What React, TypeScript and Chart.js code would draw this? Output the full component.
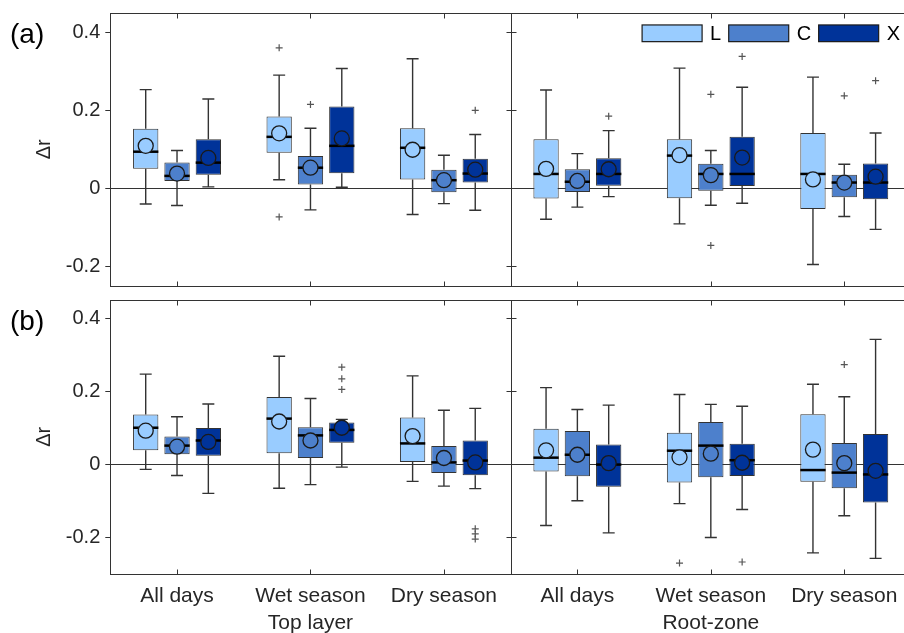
import React, { useEffect, useRef } from 'react';
import { Chart, registerables } from 'chart.js';

Chart.register(...registerables);

const FONT = '"Liberation Sans", Arial, sans-serif';
const TEXT = '#262626';
const LINE = '#333333';

const categories = ['All days', 'Wet season', 'Dry season', 'All days', 'Wet season', 'Dry season'];
const groupLabels = ['Top layer', 'Root-zone'];
const seriesNames = ['L', 'C', 'X'];
const seriesColors = ['#99ccff', '#4d80cc', '#003399'];
const yTicks = [-0.2, 0, 0.2, 0.4];
const rangeA = [-0.25, 0.45];
const rangeB = [-0.3, 0.45];

// Each box: [lower whisker, q1, median, q3, upper whisker]
// Panel (a)
const aBoxL = [
  [-0.04, 0.05, 0.094, 0.153, 0.253],
  [0.022, 0.091, 0.132, 0.184, 0.29],
  [-0.067, 0.023, 0.104, 0.154, 0.332],
  [-0.079, -0.026, 0.037, 0.126, 0.252],
  [-0.091, -0.025, 0.084, 0.126, 0.308],
  [-0.195, -0.053, 0.037, 0.142, 0.285],
];
const aMeanL = [0.109, 0.141, 0.099, 0.05, 0.085, 0.023];
const aOutL = [[], [0.36, -0.073], [], [], [], []];

const aBoxC = [
  [-0.044, 0.019, 0.032, 0.066, 0.097],
  [-0.055, 0.01, 0.053, 0.083, 0.154],
  [-0.039, -0.01, 0.021, 0.048, 0.085],
  [-0.048, -0.009, 0.017, 0.049, 0.089],
  [-0.043, -0.006, 0.037, 0.063, 0.097],
  [-0.072, -0.023, 0.015, 0.035, 0.062],
];
const aMeanC = [0.038, 0.053, 0.021, 0.019, 0.034, 0.015];
const aOutC = [[], [0.215], [], [], [0.241, -0.146], [0.237]];

const aBoxX = [
  [0.004, 0.035, 0.066, 0.126, 0.229],
  [0.003, 0.039, 0.109, 0.21, 0.307],
  [-0.056, 0.015, 0.038, 0.076, 0.138],
  [-0.021, 0.007, 0.037, 0.077, 0.148],
  [-0.038, 0.006, 0.037, 0.132, 0.259],
  [-0.105, -0.028, 0.015, 0.064, 0.142],
];
const aMeanX = [0.078, 0.128, 0.048, 0.049, 0.079, 0.03];
const aOutX = [[], [], [0.2], [0.185], [0.338], [0.276]];

// Panel (b)
const bBoxL = [
  [-0.014, 0.038, 0.1, 0.136, 0.247],
  [-0.066, 0.03, 0.125, 0.184, 0.296],
  [-0.047, 0.006, 0.057, 0.128, 0.242],
  [-0.168, -0.02, 0.018, 0.097, 0.21],
  [-0.108, -0.05, 0.037, 0.086, 0.191],
  [-0.243, -0.048, -0.016, 0.137, 0.219],
];
const bMeanL = [0.092, 0.117, 0.077, 0.038, 0.019, 0.04];
const bOutL = [[], [], [], [], [-0.271], []];

const bBoxC = [
  [-0.031, 0.027, 0.051, 0.076, 0.13],
  [-0.056, 0.017, 0.079, 0.101, 0.18],
  [-0.06, -0.024, 0.005, 0.05, 0.148],
  [-0.1, -0.033, 0.026, 0.091, 0.15],
  [-0.201, -0.036, 0.051, 0.116, 0.164],
  [-0.141, -0.066, -0.023, 0.058, 0.185],
];
const bMeanC = [0.048, 0.065, 0.017, 0.026, 0.029, 0.003];
const bOutC = [[], [], [], [], [], [0.273]];

const bBoxX = [
  [-0.08, 0.023, 0.065, 0.099, 0.165],
  [-0.008, 0.059, 0.094, 0.114, 0.123],
  [-0.067, -0.03, 0.01, 0.065, 0.153],
  [-0.188, -0.062, -0.001, 0.054, 0.162],
  [-0.124, -0.032, 0.011, 0.056, 0.159],
  [-0.258, -0.105, -0.028, 0.083, 0.342],
];
const bMeanX = [0.061, 0.1, 0.005, 0.003, 0.004, -0.018];
const bOutX = [[], [0.266, 0.234, 0.205], [-0.177, -0.191, -0.205], [], [-0.268], []];

const boxPlugin = {
  id: 'boxExtras',
  beforeDatasetsDraw(chart: any) {
    const ctx = chart.ctx;
    const y = chart.scales.y;
    ctx.save();
    ctx.strokeStyle = LINE;
    ctx.lineWidth = 1.4;
    chart.data.datasets.forEach((ds: any, di: number) => {
      const meta = chart.getDatasetMeta(di);
      meta.data.forEach((bar: any, i: number) => {
        const s = ds.stats[i];
        const x = bar.x;
        const cap = 6;
        ctx.beginPath();
        ctx.moveTo(x, y.getPixelForValue(s[3]));
        ctx.lineTo(x, y.getPixelForValue(s[4]));
        ctx.moveTo(x - cap, y.getPixelForValue(s[4]));
        ctx.lineTo(x + cap, y.getPixelForValue(s[4]));
        ctx.moveTo(x, y.getPixelForValue(s[1]));
        ctx.lineTo(x, y.getPixelForValue(s[0]));
        ctx.moveTo(x - cap, y.getPixelForValue(s[0]));
        ctx.lineTo(x + cap, y.getPixelForValue(s[0]));
        ctx.stroke();
      });
    });
    ctx.restore();
  },
  afterDatasetsDraw(chart: any) {
    const ctx = chart.ctx;
    const y = chart.scales.y;
    ctx.save();
    chart.data.datasets.forEach((ds: any, di: number) => {
      const meta = chart.getDatasetMeta(di);
      meta.data.forEach((bar: any, i: number) => {
        const s = ds.stats[i];
        const x = bar.x;
        const w = bar.width;
        // median
        ctx.strokeStyle = '#000';
        ctx.lineWidth = 2.5;
        ctx.beginPath();
        const ym = y.getPixelForValue(s[2]);
        ctx.moveTo(x - w / 2, ym);
        ctx.lineTo(x + w / 2, ym);
        ctx.stroke();
        // mean
        ctx.beginPath();
        ctx.arc(x, y.getPixelForValue(ds.means[i]), 7.5, 0, Math.PI * 2);
        ctx.fillStyle = ds.backgroundColor;
        ctx.fill();
        ctx.lineWidth = 1.3;
        ctx.strokeStyle = '#1a1a1a';
        ctx.stroke();
        // outliers
        ctx.strokeStyle = '#555';
        ctx.lineWidth = 1.2;
        ds.outliers[i].forEach((v: number) => {
          const py = y.getPixelForValue(v);
          ctx.beginPath();
          ctx.moveTo(x - 3.5, py);
          ctx.lineTo(x + 3.5, py);
          ctx.moveTo(x, py - 3.5);
          ctx.lineTo(x, py + 3.5);
          ctx.stroke();
        });
      });
    });
    ctx.restore();
  },
  afterDraw(chart: any, _args: any, opts: any) {
    const ctx = chart.ctx;
    const a = chart.chartArea;
    const xs = chart.scales.x;
    const ys = chart.scales.y;
    ctx.save();
    ctx.strokeStyle = LINE;
    ctx.lineWidth = 1;
    const L = Math.round(a.left) + 0.5;
    const R = Math.round(a.right) + 0.5;
    const T = Math.round(a.top) + 0.5;
    const B = Math.round(a.bottom) + 0.5;
    ctx.strokeRect(L, T, R - L, B - T);
    const mid = Math.round((xs.getPixelForValue(2) + xs.getPixelForValue(3)) / 2) + 0.5;
    ctx.beginPath();
    ctx.moveTo(mid, T);
    ctx.lineTo(mid, B);
    for (let i = 0; i < categories.length; i++) {
      const px = Math.round(xs.getPixelForValue(i)) + 0.5;
      ctx.moveTo(px, T);
      ctx.lineTo(px, T + 5);
      ctx.moveTo(px, B);
      ctx.lineTo(px, B - 5);
    }
    yTicks.forEach((v) => {
      const py = Math.round(ys.getPixelForValue(v)) + 0.5;
      ctx.moveTo(mid - 5, py);
      ctx.lineTo(mid + 5, py);
    });
    ctx.stroke();

    if (opts && opts.legend) {
      ctx.font = '20px ' + FONT;
      ctx.textBaseline = 'middle';
      ctx.textAlign = 'left';
      const bw = 60;
      const bh = 16.7;
      const gapText = 8;
      const gapItem = 7.5;
      const widths = chart.data.datasets.map((d: any) => bw + gapText + ctx.measureText(d.label).width);
      const total = widths.reduce((p: number, c: number) => p + c, 0) + gapItem * (widths.length - 1);
      let lx = a.right - 11 - total;
      const cy = a.top + 20.6;
      chart.data.datasets.forEach((d: any, k: number) => {
        ctx.fillStyle = d.backgroundColor;
        ctx.fillRect(lx, cy - bh / 2, bw, bh);
        ctx.strokeStyle = '#1a1a1a';
        ctx.lineWidth = 1.2;
        ctx.strokeRect(lx, cy - bh / 2, bw, bh);
        ctx.fillStyle = '#000';
        ctx.fillText(d.label, lx + bw + gapText, cy + 1);
        lx += widths[k] + gapItem;
      });
    }
    ctx.restore();
  },
};

function buildChart(
  canvas: HTMLCanvasElement,
  boxes: number[][][],
  means: number[][],
  outs: number[][][],
  range: number[],
  showX: boolean,
  padTop: number,
  xHeight: number,
  legend: boolean
) {
  const labels = categories.map((c, i) => {
    if (!showX) return c;
    if (i === 1) return [c, groupLabels[0]];
    if (i === 4) return [c, groupLabels[1]];
    return c;
  });
  return new Chart(canvas, {
    type: 'bar',
    data: {
      labels,
      datasets: seriesNames.map((name, k) => ({
        label: name,
        data: boxes[k].map((b) => [b[1], b[3]]),
        stats: boxes[k],
        means: means[k],
        outliers: outs[k],
        backgroundColor: seriesColors[k],
        borderColor: LINE,
        borderWidth: 1,
        borderSkipped: false,
        categoryPercentage: 0.704,
        barPercentage: 0.808,
      })) as any,
    },
    plugins: [boxPlugin as any],
    options: {
      animation: false,
      responsive: false,
      events: [],
      layout: { padding: { top: padTop, right: 19, bottom: 0, left: 0 } },
      plugins: {
        legend: { display: false },
        tooltip: { enabled: false },
        boxExtras: { legend },
      } as any,
      scales: {
        x: {
          type: 'category',
          offset: true,
          grid: { display: false, drawTicks: false },
          border: { display: false },
          ticks: {
            display: showX,
            autoSkip: false,
            maxRotation: 0,
            padding: 9,
            color: TEXT,
            font: { family: FONT, size: 21, lineHeight: 1.3 },
          },
          afterFit: (s: any) => {
            s.height = xHeight;
            s.paddingLeft = 0;
            s.paddingRight = 0;
          },
        },
        y: {
          min: range[0],
          max: range[1],
          afterBuildTicks: (s: any) => {
            s.ticks = yTicks.map((v) => ({ value: v }));
          },
          afterFit: (s: any) => {
            s.width = 110.3;
            s.paddingTop = 0;
            s.paddingBottom = 0;
          },
          border: { display: false },
          grid: {
            color: (c: any) => (c.tick && c.tick.value === 0 ? LINE : 'rgba(0,0,0,0)'),
            tickColor: LINE,
            tickLength: 5,
            lineWidth: 1,
          },
          ticks: {
            padding: 5,
            color: TEXT,
            font: { family: FONT, size: 20 },
            callback: (v: any) => String(v),
          },
          title: {
            display: true,
            text: 'Δr',
            color: TEXT,
            font: { family: FONT, size: 20 },
            padding: { top: 32, bottom: 0 },
          },
        },
      },
    } as any,
  });
}

export default function App() {
  const refA = useRef<HTMLCanvasElement>(null);
  const refB = useRef<HTMLCanvasElement>(null);

  useEffect(() => {
    const ca = buildChart(
      refA.current!,
      [aBoxL, aBoxC, aBoxX],
      [aMeanL, aMeanC, aMeanX],
      [aOutL, aOutC, aOutX],
      rangeA,
      false,
      12.7,
      4,
      true
    );
    const cb = buildChart(
      refB.current!,
      [bBoxL, bBoxC, bBoxX],
      [bMeanL, bMeanC, bMeanX],
      [bOutL, bOutC, bOutX],
      rangeB,
      true,
      10,
      59.3,
      false
    );
    return () => {
      ca.destroy();
      cb.destroy();
    };
  }, []);

  const panelLabel: React.CSSProperties = {
    position: 'absolute',
    left: 10,
    fontFamily: FONT,
    fontSize: 28,
    lineHeight: 1,
    color: '#000',
  };

  return (
    <div
      style={{
        position: 'absolute',
        left: 0,
        top: 0,
        width: 904,
        height: 633,
        overflow: 'hidden',
        background: '#fff',
      }}
    >
      <div style={{ position: 'absolute', left: 0, top: 0, width: 930, height: 290 }}>
        <canvas ref={refA} width={930} height={290} style={{ display: 'block', width: 930, height: 290 }} />
      </div>
      <div style={{ position: 'absolute', left: 0, top: 290, width: 930, height: 343 }}>
        <canvas ref={refB} width={930} height={343} style={{ display: 'block', width: 930, height: 343 }} />
      </div>
      <div style={{ ...panelLabel, top: 20 }}>(a)</div>
      <div style={{ ...panelLabel, top: 306.7 }}>(b)</div>
    </div>
  );
}
